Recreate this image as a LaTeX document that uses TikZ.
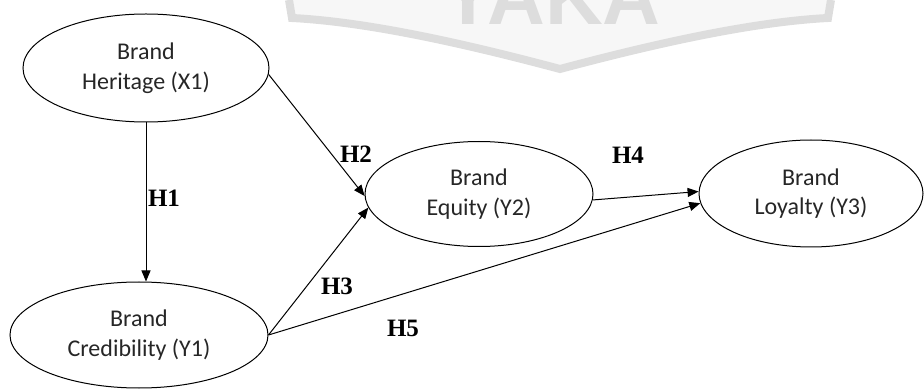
\documentclass[tikz,border=0pt]{standalone}
\usepackage{fontspec}
\setmainfont{Liberation Serif}
\newfontfamily\carlitofont{Carlito}
\newfontfamily\wmfont{Liberation Sans}
\usetikzlibrary{shapes.geometric,arrows.meta}
\definecolor{txt}{HTML}{262626}
\definecolor{wmband}{HTML}{DDDDDD}
\definecolor{wmfill}{HTML}{F7F7F7}
\tikzset{
  construct/.style={ellipse, draw=black, line width=1pt, inner sep=0pt, align=center,
    text=txt, font=\carlitofont\fontsize{24}{29.5}\selectfont},
  hyp/.style={inner sep=0pt, font=\bfseries\fontsize{25}{30}\selectfont, text=black},
  path/.style={draw=black, line width=1pt, -{Triangle[length=11pt,width=9pt]}}
}
\begin{document}
\begin{tikzpicture}[x=1pt,y=-1pt]
\useasboundingbox (0,0) rectangle (924,390);
% faint watermark
\begin{scope}
\clip (0,0) rectangle (924,390);
\fill[wmfill] (289,0) -- (292,18) .. controls (370,22) and (470,45) .. (560,69)
   .. controls (650,45) and (750,22) .. (828,18) -- (831,0) -- cycle;
\node[anchor=base, inner sep=0pt, text=wmband, font=\wmfont\bfseries\fontsize{80}{84}\selectfont] (wm) at (551,25) {YAKA};
\draw[wmband, line width=8pt] (289,0) -- (292,18) .. controls (370,22) and (470,45) .. (560,69)
   .. controls (650,45) and (750,22) .. (828,18) -- (831,0);
\end{scope}
% constructs
\node[construct, minimum width=246pt, minimum height=108pt] (X1) at (146,68) {Brand\\Heritage (X1)};
\node[construct, minimum width=258pt, minimum height=106pt] (Y1) at (139,335) {Brand\\Credibility (Y1)};
\node[construct, minimum width=228pt, minimum height=105pt] (Y2) at (479,194) {Brand\\Equity (Y2)};
\node[construct, minimum width=224pt, minimum height=107pt] (Y3) at (811,193.5) {Brand\\Loyalty (Y3)};
% paths
\draw[path] (X1.south) -- (X1.south |- Y1.north);
\draw[path] (X1.357) -- (Y2.181);
\draw[path] (Y1.east) -- (Y2.187);
\draw[path] (Y2.357) -- (Y3.179);
\draw[path] (Y1.east) -- (Y3.185);
% hypothesis labels
\node[hyp] (h1) at (164,198.5) {H1};
\node[hyp] (h2) at (356,154) {H2};
\node[hyp] (h3) at (337,286) {H3};
\node[hyp] (h4) at (628,155) {H4};
\node[hyp] (h5) at (403,328.5) {H5};
\end{tikzpicture}
\end{document}
